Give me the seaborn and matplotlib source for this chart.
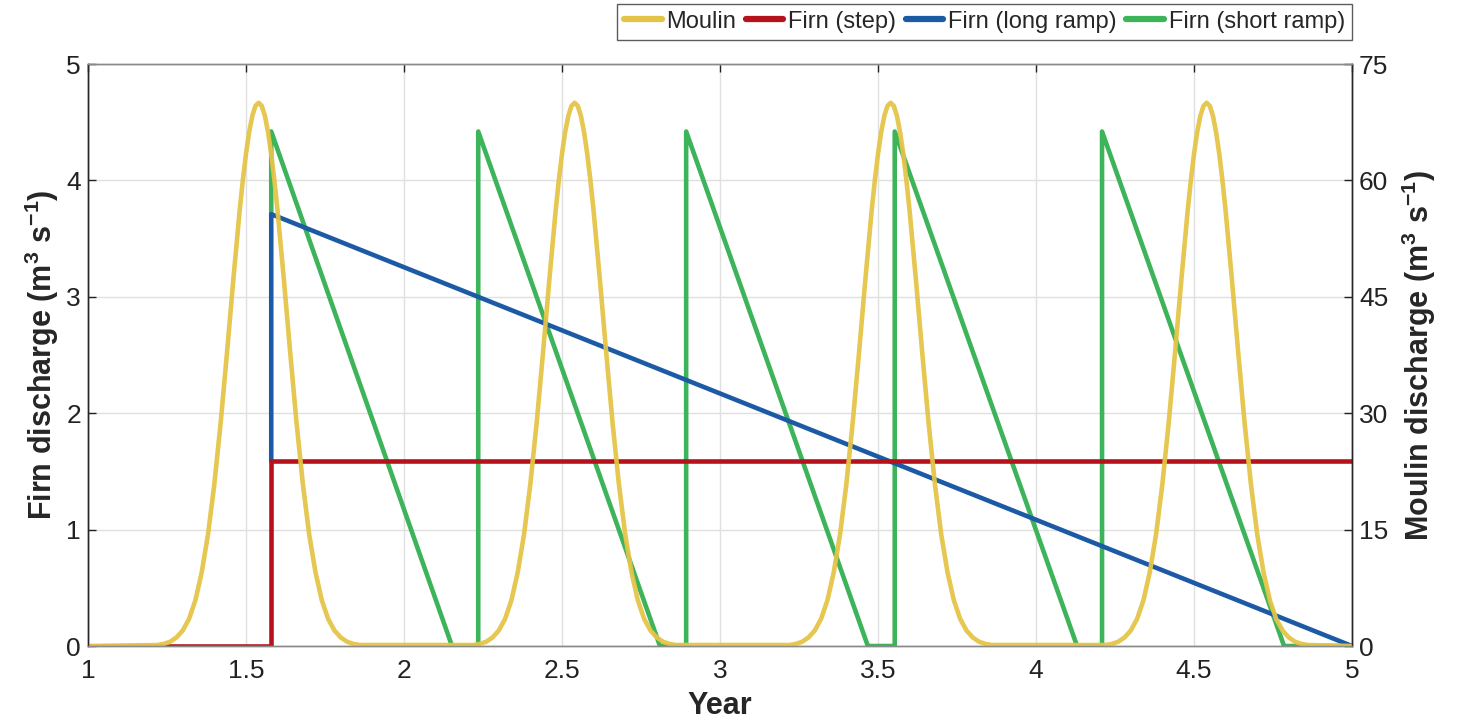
import matplotlib
matplotlib.use('Agg')
import matplotlib.pyplot as plt
import numpy as np
import seaborn as sns

# ---- data ----
# moulin discharge: one melt pulse per year, peak centres (year)
moulin_peaks = [1.54, 2.54, 3.54, 4.54]
# pulse shape: offset from peak (year) -> discharge (m3/s)
pulse_offset = [-0.32, -0.30, -0.28, -0.26, -0.24, -0.22, -0.20, -0.18, -0.16, -0.14,
                -0.12, -0.10, -0.09, -0.08, -0.07, -0.06, -0.05, -0.04, -0.03, -0.02,
                -0.01, 0.0, 0.01, 0.02, 0.03, 0.04, 0.05, 0.06, 0.07, 0.08, 0.09,
                0.10, 0.12, 0.14, 0.16, 0.18, 0.20, 0.22, 0.24, 0.26, 0.28, 0.30, 0.32]
pulse_value = [0.13, 0.27, 0.55, 1.1, 2.0, 3.5, 5.9, 9.5, 14.4, 20.9,
               28.8, 37.8, 42.5, 47.2, 51.7, 56.1, 60.0, 63.4, 66.2, 68.3,
               69.6, 70.0, 69.6, 68.3, 66.2, 63.4, 60.0, 56.1, 51.7, 47.2, 42.5,
               37.8, 28.8, 20.9, 14.4, 9.5, 5.9, 3.5, 2.0, 1.1, 0.55, 0.27, 0.13]

# firn (step)
step_x = [1.0, 1.58, 1.58, 5.0]
step_y = [0.0, 0.0, 1.59, 1.59]

# firn (long ramp)
long_x = [1.58, 1.58, 5.0]
long_y = [1.59, 3.71, 0.0]

# firn (short ramp): jump times and zero crossings
short_x = [1.58, 1.58, 2.152, 2.235, 2.235, 2.81, 2.893, 2.893, 3.468, 3.553, 3.553,
           4.13, 4.209, 4.209, 4.785, 5.0]
short_y = [3.71, 4.42, 0.0, 0.0, 4.42, 0.0, 0.0, 4.42, 0.0, 0.0, 4.42,
           0.0, 0.0, 4.42, 0.0, 0.0]

moulin_x = [1.0]
moulin_y = [0.0]
for c in moulin_peaks:
    moulin_x += [c + o for o in pulse_offset]
    moulin_y += pulse_value
moulin_x.append(5.0)
moulin_y.append(0.0)

c_moulin = '#E4C447'
c_step = '#B5121B'
c_long = '#1C5AA6'
c_short = '#3DB35A'

sns.set_theme(style='white')
plt.rcParams['font.family'] = ['Liberation Sans', 'DejaVu Sans']
plt.rcParams['mathtext.fontset'] = 'custom'
plt.rcParams['mathtext.rm'] = 'Liberation Sans'
plt.rcParams['mathtext.bf'] = 'Liberation Sans:bold'

fig = plt.figure(figsize=(14.61, 7.24), dpi=100)
ax = fig.add_axes([0.0602, 0.1077, 0.8652, 0.8039])
ax2 = ax.twinx()

lw = 3.3
sns.lineplot(x=short_x, y=short_y, ax=ax, color=c_short, lw=lw, sort=False, estimator=None)
sns.lineplot(x=long_x, y=long_y, ax=ax, color=c_long, lw=lw, sort=False, estimator=None)
sns.lineplot(x=step_x, y=step_y, ax=ax, color=c_step, lw=lw, sort=False, estimator=None)
sns.lineplot(x=moulin_x, y=moulin_y, ax=ax2, color=c_moulin, lw=lw, sort=False,
             estimator=None, alpha=0.95)

ax.set_xlim(1, 5)
ax.set_ylim(0, 5)
ax2.set_ylim(0, 75)
ax.set_xticks([1, 1.5, 2, 2.5, 3, 3.5, 4, 4.5, 5])
ax.set_xticklabels(['1', '1.5', '2', '2.5', '3', '3.5', '4', '4.5', '5'])
ax.set_yticks([0, 1, 2, 3, 4, 5])
ax2.set_yticks([0, 15, 30, 45, 60, 75])

ax.grid(True, color='#e0e0e0', lw=1)
ax.set_axisbelow(True)

for a in (ax, ax2):
    a.tick_params(direction='in', length=6, width=1, labelsize=19, colors='#222222',
                  top=True, pad=5)
    for s in a.spines.values():
        s.set_linewidth(1)
    a.spines['top'].set_color('#8a8a8a')
    a.spines['bottom'].set_color('#8a8a8a')
    a.spines['left'].set_color('#262626')
    a.spines['right'].set_color('#262626')
ax.tick_params(axis='x', pad=9)

unit = r' (m$^{\mathbf{3}}$ s$^{\mathbf{-1}}$)'
ax.set_xlabel('Year', fontsize=22, fontweight='bold', labelpad=6)
ax.set_ylabel('Firn discharge' + unit, fontsize=22, fontweight='bold', labelpad=4)
ax2.set_ylabel('Moulin discharge' + unit, fontsize=22, fontweight='bold', labelpad=8)

handles = [plt.Line2D([], [], color=c, lw=4.5) for c in (c_moulin, c_step, c_long, c_short)]
labels = ['Moulin', 'Firn (step)', 'Firn (long ramp)', 'Firn (short ramp)']
leg = fig.legend(handles, labels, loc='upper right', bbox_to_anchor=(0.9254, 0.995),
                 ncol=4, fontsize=17, frameon=True, fancybox=False, handlelength=1.6,
                 handletextpad=0.2, columnspacing=0.4, borderpad=0.3, borderaxespad=0)
leg.get_frame().set_edgecolor('#333333')
leg.get_frame().set_linewidth(1)

fig.savefig('out.png', dpi=100)
